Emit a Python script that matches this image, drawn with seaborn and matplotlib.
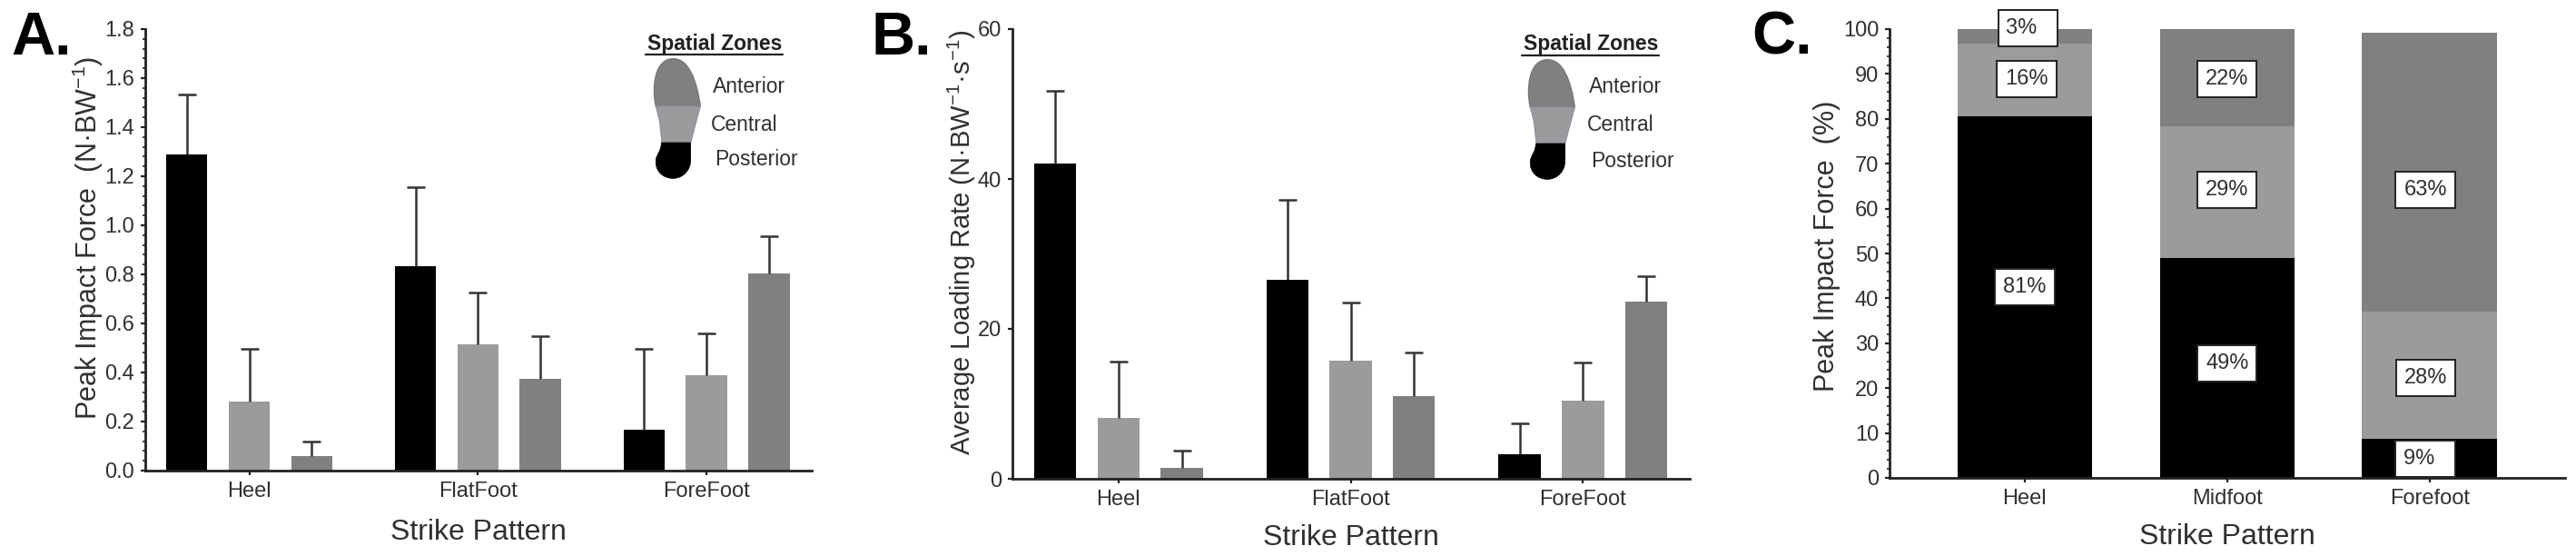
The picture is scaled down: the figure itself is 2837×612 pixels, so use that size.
import seaborn as sns
import matplotlib.pyplot as plt
import pandas as pd
import numpy as np
from matplotlib.path import Path
from matplotlib.patches import PathPatch, Polygon
from matplotlib.ticker import MultipleLocator

W, H = 2837, 612

# --- Values ---
zones = ["Posterior", "Central", "Anterior"]
colors = ["#000000", "#9b9b9e", "#808080"]

patterns_ab = ["Heel", "FlatFoot", "ForeFoot"]
force_mean = [1.29, 0.28, 0.06, 0.835, 0.515, 0.375, 0.165, 0.39, 0.805]
force_top = [1.535, 0.495, 0.12, 1.155, 0.725, 0.55, 0.495, 0.56, 0.955]
rate_mean = [42.1, 8.1, 1.4, 26.6, 15.8, 11.0, 3.3, 10.4, 23.6]
rate_top = [51.8, 15.6, 3.7, 37.2, 23.5, 16.9, 7.4, 15.5, 27.0]

patterns_c = ["Heel", "Midfoot", "Forefoot"]
share_posterior = [80.5, 49.0, 8.7]
share_central = [16.2, 29.3, 28.3]
share_anterior = [3.3, 21.7, 62.2]
labels_c = ["81%", "49%", "9%", "16%", "29%", "28%", "3%", "22%", "63%"]
label_x = [0.0, 0.0, -0.02, 0.01, 0.0, -0.02, 0.015, 0.0, -0.02]
label_y = [42.6, 25.5, 4.2, 88.9, 64.2, 22.2, 100.2, 88.9, 64.2]

sns.set_style("white")
plt.rcParams["font.family"] = ["Liberation Sans", "DejaVu Sans"]
plt.rcParams["mathtext.default"] = "regular"
plt.rcParams["mathtext.fontset"] = "custom"
plt.rcParams["mathtext.rm"] = "Liberation Sans"

fig = plt.figure(figsize=(W / 100, H / 100), dpi=100)
TEXT = "#303030"


def add_axes_px(left, top, right, bottom):
    return fig.add_axes([left / W, 1 - bottom / H, (right - left) / W, (bottom - top) / H])


def px_text(x, y, s, **kw):
    return fig.text(x / W, 1 - y / H, s, **kw)


def style_axes(ax, ylabel, label_xy, ylabel_size, xlabel_pad=12):
    sns.despine(ax=ax)
    for side in ["left", "bottom"]:
        ax.spines[side].set_linewidth(2.0)
        ax.spines[side].set_color("#222222")
    ax.tick_params(axis="both", which="major", left=True, bottom=True, length=3.5, width=1.6,
                   labelsize=17, labelcolor=TEXT, color="#222222", pad=5)
    ax.set_xlabel("Strike Pattern", fontsize=23, color=TEXT, labelpad=xlabel_pad)
    ax.set_ylabel(ylabel, fontsize=ylabel_size, color=TEXT, va="center")
    ax.yaxis.set_label_coords(label_xy[0] / W, 1 - label_xy[1] / H, transform=fig.transFigure)


def grouped_bars(ax, means, tops, width, gap):
    df = pd.DataFrame({
        "pattern": np.repeat(patterns_ab, 3),
        "zone": zones * 3,
        "mean": means,
    })
    sns.barplot(data=df, x="pattern", y="mean", hue="zone", hue_order=zones, palette=colors,
                width=width, gap=gap, saturation=1, errorbar=None, legend=False, linewidth=0, ax=ax)
    # bars come back hue by hue, so order the tops the same way
    tops_by_zone = np.array(tops).reshape(3, 3).T.ravel()
    means_by_zone = np.array(means).reshape(3, 3).T.ravel()
    centres = [p.get_x() + p.get_width() / 2 for p in ax.patches[:9]]
    bars = ax.errorbar(centres, means_by_zone, yerr=[np.zeros(9), tops_by_zone - means_by_zone],
                       fmt="none", ecolor="#333333", elinewidth=1.8, capsize=7.5, capthick=1.8,
                       zorder=1)
    bars[1][0].set_visible(False)  # upper side only


def foot_icon(left, top):
    # drawn in the pixel space of a small transparent axes
    ax = add_axes_px(left, top, left + 70, top + 140)
    ax.set_xlim(0, 210)
    ax.set_ylim(420, 0)
    ax.axis("off")
    M, L, C, Z = Path.MOVETO, Path.LINETO, Path.CURVE4, Path.CLOSEPOLY
    ant = Path([(13, 162), (0, 110), (5, 5), (70, 5), (120, 5), (147, 70), (160, 162), (13, 162)],
               [M, C, C, C, C, C, C, Z])
    ax.add_patch(PathPatch(ant, fc="#808080", ec="#77777f", lw=1))
    ax.add_patch(Polygon([(13, 162), (160, 162), (147, 210), (128, 282), (33, 282), (25, 210)],
                         fc="#9b9b9e", ec="#9090a0", lw=0.8))
    post = Path([(31, 282), (128, 282), (128, 340), (128, 370), (105, 400), (70, 400),
                 (35, 400), (10, 375), (13, 340), (15, 320), (31, 310), (31, 282), (31, 282)],
                [M, L, L, C, C, C, C, C, C, C, C, C, Z])
    ax.add_patch(PathPatch(post, fc="#000000", ec="#000000", lw=0.5))


def zone_legend(dx, dy, foot_left):
    px_text(787 + dx, 48 + dy, "Spatial Zones", fontsize=16.5, fontweight="bold", color="#222222",
            ha="center", va="center")
    fig.add_artist(plt.Line2D([(711 + dx) / W, (862 + dx) / W],
                              [1 - (60 + dy) / H] * 2, color="#222222", lw=1.6))
    px_text(785 + dx, 95 + dy, "Anterior", fontsize=16.5, color=TEXT, va="center")
    px_text(783 + dx, 137 + dy, "Central", fontsize=16.5, color=TEXT, va="center")
    px_text(787 + dx, 176 + dy, "Posterior", fontsize=16.5, color=TEXT, va="center")
    foot_icon(foot_left, 63 + dy)


# --- Panel A ---
ax_a = add_axes_px(160, 32, 894, 518)
grouped_bars(ax_a, force_mean, force_top, 0.82, 0.34)
ax_a.set_xlim(-0.455, 2.46)
ax_a.set_ylim(0, 1.8)
ax_a.yaxis.set_major_locator(MultipleLocator(0.2))
ax_a.yaxis.set_minor_locator(MultipleLocator(0.04))
ax_a.tick_params(axis="y", which="minor", left=True, length=2.5, width=1.2, color="#222222")
ax_a.yaxis.set_major_formatter("{x:.1f}")
style_axes(ax_a, "Peak Impact Force  (N·BW$^{-1}$)", (97, 262), 22, xlabel_pad=14)

# --- Panel B ---
ax_b = add_axes_px(1115, 32, 1861, 527)
grouped_bars(ax_b, rate_mean, rate_top, 0.8175, 0.335)
ax_b.set_xlim(-0.457, 2.46)
ax_b.set_ylim(0, 60)
ax_b.set_yticks([0, 20, 40, 60])
style_axes(ax_b, "Average Loading Rate (N·BW$^{-1}$·s$^{-1}$)", (1059, 267), 21)

# --- Panel C: stacked, tallest layer drawn first ---
ax_c = add_axes_px(2081, 32, 2825, 526)
layers = np.cumsum([share_posterior, share_central, share_anterior], axis=0)
for level, colour in zip(layers[::-1], colors[::-1]):
    sns.barplot(x=patterns_c, y=level, color=colour, width=0.666, saturation=1,
                errorbar=None, linewidth=0, ax=ax_c)
ax_c.set_xlim(-0.668, 2.67)
ax_c.set_ylim(0, 100)
ax_c.yaxis.set_major_locator(MultipleLocator(10))
ax_c.yaxis.set_minor_locator(MultipleLocator(2))
ax_c.tick_params(axis="y", which="minor", left=True, length=2.5, width=1.2, color="#222222")
style_axes(ax_c, "Peak Impact Force  (%)", (2012, 271), 22)
for i, (s, dx, y) in enumerate(zip(labels_c, label_x, label_y)):
    # short labels sit left in a box of the same size as the others
    shown = s + "  " if len(s) == 2 else s
    ax_c.text(i % 3 + dx, y, shown, ha="center", va="center", fontsize=17, color=TEXT, clip_on=False,
              zorder=5, bbox=dict(boxstyle="square,pad=0.38", fc="white", ec="#222222", lw=1.4))

# --- Panel letters and the foot key ---
for x, s in zip([12, 960, 1929], ["A.", "B.", "C."]):
    px_text(x, 60, s, fontsize=48, fontweight="bold", color="black", va="baseline")
zone_legend(0, 0, 718)
zone_legend(965, 1, 1681)

fig.savefig("out.png", dpi=100)
